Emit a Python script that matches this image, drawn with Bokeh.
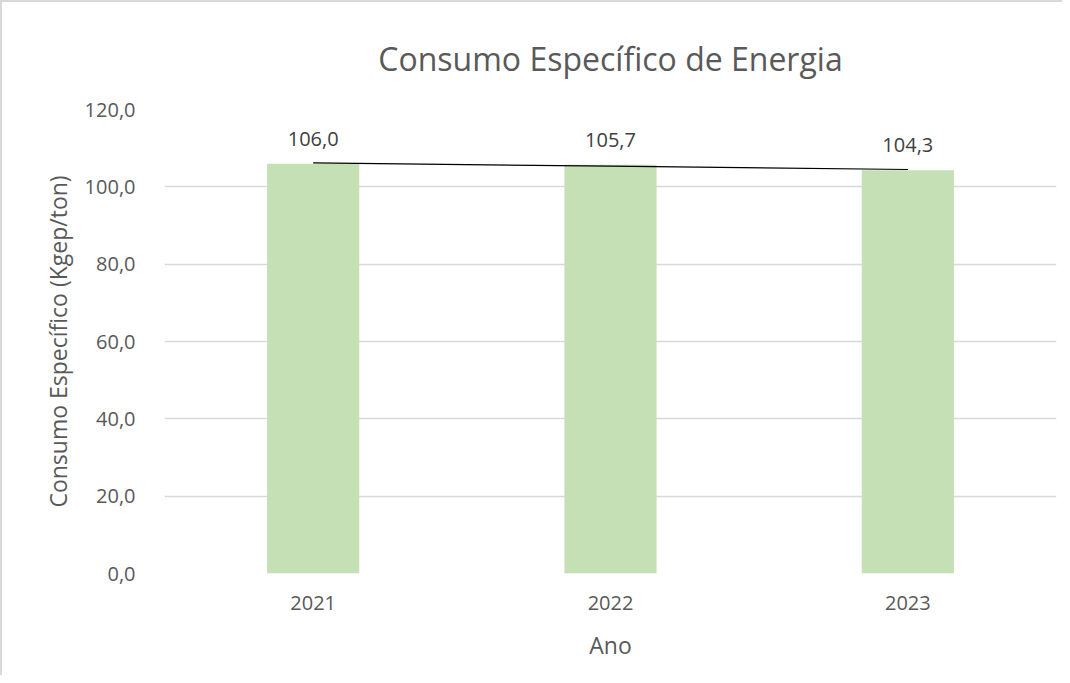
import numpy as np
from bokeh.plotting import figure
from bokeh.models import Range1d, FixedTicker, ColumnDataSource, LabelSet, Title
from bokeh.core.properties import value
from bokeh.embed import file_html
from bokeh.resources import INLINE

years = ["2021", "2022", "2023"]
consumo = [106.0, 105.7, 104.3]
value_labels = ["106,0", "105,7", "104,3"]
y_ticks = [0, 20, 40, 60, 80, 100, 120]
y_tick_labels = ["0,0", "20,0", "40,0", "60,0", "80,0", "100,0", "120,0"]

FONT = "Open Sans"
GRAY = "#595959"

p = figure(x_range=years, y_range=Range1d(0, 120), width=1062, height=675,
           output_backend="svg", toolbar_location=None,
           min_border_left=162, min_border_right=8, min_border_top=107, min_border_bottom=104)
p.styles = {"border-left": "2px solid #d9d9d9", "border-top": "2px solid #d9d9d9"}

t = Title(text="Consumo Específico de Energia", align="center", text_font=FONT,
          text_font_size="32px", text_color=GRAY, text_font_style="normal", standoff=60)
p.add_layout(t, "above")

src = ColumnDataSource(dict(x=years, y=consumo, lab=value_labels))
p.vbar(x="x", top="y", width=0.31, source=src, fill_color="#C5E0B4", line_color=None)

# linear trendline fitted to the data
idx = np.arange(len(consumo))
slope, intercept = np.polyfit(idx, consumo, 1)
trend = list(slope * idx + intercept)
p.line(x=years, y=trend, line_color="black", line_width=1.2)

labels = LabelSet(x="x", y="y", text="lab", source=src, text_align="center",
                  text_baseline="middle", y_offset=25, text_font=value(FONT),
                  text_font_size="20px", text_color="#404040")
p.add_layout(labels)

p.yaxis.ticker = FixedTicker(ticks=y_ticks)
p.yaxis.major_label_overrides = {t_: l for t_, l in zip(y_ticks, y_tick_labels)}

for ax in (p.xaxis, p.yaxis):
    ax.axis_line_color = None
    ax.major_tick_line_color = None
    ax.minor_tick_line_color = None
    ax.major_label_text_font = FONT
    ax.major_label_text_font_size = "20px"
    ax.major_label_text_color = GRAY
    ax.axis_label_text_font = FONT
    ax.axis_label_text_font_size = "23px"
    ax.axis_label_text_color = GRAY
    ax.axis_label_text_font_style = "normal"

p.yaxis.axis_label = "Consumo Específico (Kgep/ton)"
p.xaxis.axis_label = "Ano"
p.yaxis.major_label_standoff = 23
p.yaxis.axis_label_standoff = 8
p.xaxis.major_label_standoff = 16
p.xaxis.axis_label_standoff = 16

p.xgrid.grid_line_color = None
p.ygrid.grid_line_color = "#d9d9d9"
p.ygrid.grid_line_width = 1.5
p.outline_line_color = None
p.x_range.range_padding = 0

open("out.html", "w").write(file_html(p, INLINE))
